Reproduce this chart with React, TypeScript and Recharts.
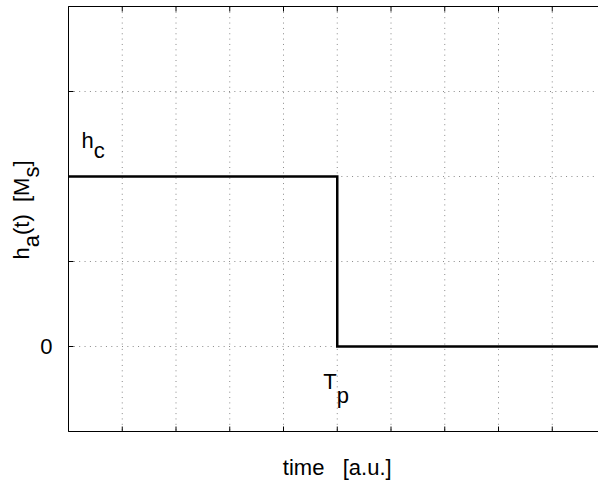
import React from "react";
import {
  LineChart,
  Line,
  XAxis,
  YAxis,
  CartesianGrid,
  ReferenceDot,
} from "recharts";

// step response: plateau h_c until T_p, then zero
const times = [0, 5, 10];
const levels = [1, 0, 0];
const timeTicks = [0, 1, 2, 3, 4, 5, 6, 7, 8, 9, 10];
const levelTicks = [0, 0.5, 1, 1.5];
const plateau = { t: 0, h: 1 };
const pulseEnd = { t: 5, h: 0 };

const data = times.map((t, i) => ({ t, h: levels[i] }));

const FONT = "'Liberation Sans', Arial, Helvetica, sans-serif";
const FS = 22;

const textStyle: React.CSSProperties = { whiteSpace: "pre" };

function HcLabel(props: any) {
  const { x, y } = props.viewBox;
  return (
    <text x={x + 13} y={y - 29} fontFamily={FONT} fontSize={FS} fill="#000">
      <tspan>h</tspan>
      <tspan dy={10}>c</tspan>
    </text>
  );
}

function TpLabel(props: any) {
  const { x, y } = props.viewBox;
  return (
    <text x={x - 14} y={y + 42} fontFamily={FONT} fontSize={FS} fill="#000">
      <tspan>T</tspan>
      <tspan dy={14}>p</tspan>
    </text>
  );
}

function TimeLabel(props: any) {
  const { x, y, width } = props.viewBox;
  return (
    <text
      x={x + width / 2}
      y={y + 43}
      textAnchor="middle"
      fontFamily={FONT}
      fontSize={FS}
      fill="#000"
      style={textStyle}
    >
      {"time   [a.u.]"}
    </text>
  );
}

function LevelLabel(props: any) {
  const { y } = props.viewBox;
  const bx = 29;
  const by = y + 253;
  return (
    <text
      x={bx}
      y={by}
      transform={`rotate(-90, ${bx}, ${by})`}
      fontFamily={FONT}
      fontSize={FS}
      fill="#000"
      style={textStyle}
    >
      <tspan>h</tspan>
      <tspan dy={10}>a</tspan>
      <tspan dy={-10}>{"(t)  [M"}</tspan>
      <tspan dy={10}>s</tspan>
      <tspan dy={-10}>]</tspan>
    </text>
  );
}

const axisLine = { stroke: "#000", strokeWidth: 1 };
const noLabel = () => "";

export default function App() {
  return (
    <div
      style={{
        position: "fixed",
        left: 0,
        top: 0,
        width: 598,
        height: 481,
        overflow: "hidden",
        background: "#fff",
      }}
    >
      <LineChart
        width={640}
        height={481}
        data={data}
        margin={{ top: 5.5, right: 34, bottom: 0, left: 0.5 }}
      >
        <CartesianGrid
          stroke="#8a8a8a"
          strokeWidth={1}
          strokeDasharray="1 4.35"
        />
        <XAxis
          dataKey="t"
          type="number"
          domain={[0, 10]}
          ticks={timeTicks}
          height={49.5}
          tickFormatter={noLabel}
          tickSize={-5}
          axisLine={axisLine}
          tickLine={axisLine}
          label={{ content: TimeLabel }}
        />
        <XAxis
          xAxisId="top"
          orientation="top"
          dataKey="t"
          type="number"
          domain={[0, 10]}
          ticks={timeTicks}
          height={1}
          tickFormatter={noLabel}
          tickSize={-5}
          axisLine={axisLine}
          tickLine={axisLine}
        />
        <YAxis
          type="number"
          domain={[-0.5, 2]}
          ticks={levelTicks}
          width={68}
          tickSize={-5}
          tickMargin={21}
          tickFormatter={(v: number) => (v === 0 ? "0" : "")}
          tick={{ fill: "#000", fontSize: FS, fontFamily: FONT }}
          axisLine={axisLine}
          tickLine={axisLine}
          label={{ content: LevelLabel }}
        />
        <Line
          dataKey="h"
          type="stepAfter"
          stroke="#000"
          strokeWidth={2.5}
          dot={false}
          activeDot={false}
          isAnimationActive={false}
        />
        <ReferenceDot
          x={plateau.t}
          y={plateau.h}
          r={0}
          fill="none"
          stroke="none"
          label={{ content: HcLabel }}
        />
        <ReferenceDot
          x={pulseEnd.t}
          y={pulseEnd.h}
          r={0}
          fill="none"
          stroke="none"
          label={{ content: TpLabel }}
        />
      </LineChart>
    </div>
  );
}
